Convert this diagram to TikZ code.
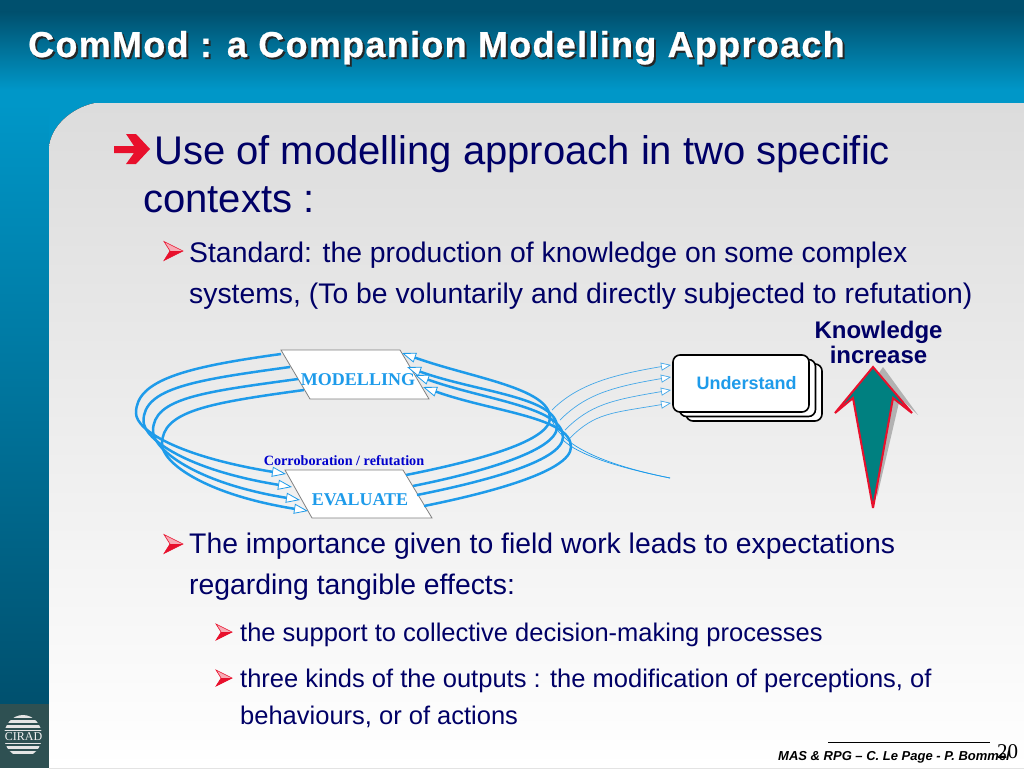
\documentclass[tikz,border=0pt]{standalone}
\usepackage{fontspec}
\setmainfont{Liberation Sans}
\newfontfamily\serifface{Liberation Serif}
\newfontfamily\titleface[LetterSpace=3.6,BoldFeatures={FakeBold=0.6}]{Liberation Sans}
\usetikzlibrary{arrows.meta}
\definecolor{navyText}{HTML}{000066}
\definecolor{loopBlue}{HTML}{1E9BEA}
\definecolor{thinBlue}{HTML}{9CC4E4}
\definecolor{barRed}{HTML}{E8102C}
\definecolor{deepSea}{HTML}{00506E}
\definecolor{midSea}{HTML}{0097C8}
\definecolor{panelTop}{HTML}{DCDCDC}
\definecolor{logoGreen}{HTML}{2E5052}
\tikzset{
  line/.style={anchor=base west, inner sep=0pt, text=navyText},
  mainLine/.style={line, font=\fontsize{40}{40}\selectfont},
  subLine/.style={line, font=\fontsize{28.35}{28.35}\selectfont},
  subsubLine/.style={line, font=\fontsize{25.5}{25.5}\selectfont},
  arrowMark/.pic={
    \fill[barRed!35!white] (0,0) -- (19,9.5) -- (6,9.5) -- cycle;
    \fill[barRed] (0,19) -- (19,9.5) -- (6,9.5) -- cycle;
    \draw[barRed, line width=0.6pt] (0,0) -- (19,9.5) -- (0,19) -- (6,9.5) -- cycle;
  },
  paraBox/.style={draw=gray, fill=white, line width=0.8pt},
  paraLabel/.style={inner sep=0pt, text=loopBlue, font=\serifface\bfseries\fontsize{18}{18}\selectfont},
  loopLine/.style={draw=loopBlue, line width=2.5pt},
  openTip/.style={-{Triangle[length=14pt,width=10pt,line width=0.8pt,fill=white]}},
  thinTip/.style={draw=loopBlue!70!thinBlue, line width=0.7pt, -{Triangle[length=10pt,width=8pt,line width=0.7pt,fill=white]}},
  card/.style={draw=black, fill=white, line width=1.6pt, rounded corners=7pt, minimum width=136pt, minimum height=57pt, inner sep=0pt}
}
\begin{document}
\begin{tikzpicture}[x=1pt,y=-1pt]
  \useasboundingbox (0,0) rectangle (1024,768);

  % background
  \fill[deepSea] (0,0) rectangle (1024,12);
  \fill[top color=deepSea, bottom color=midSea] (0,12) rectangle (1024,90);
  \fill[midSea] (0,90) rectangle (1024,104);
  \fill[midSea] (49,103) rectangle (96,150);
  \fill[top color=midSea, bottom color=deepSea] (0,103) rectangle (49,704);
  \fill[top color=panelTop, bottom color=white]
    (49,768) -- (49,148) .. controls (50,128) and (70,108) .. (95,103) -- (1024,103) -- (1024,768) -- cycle;

  % logo
  \fill[logoGreen] (0,704) rectangle (49,768);
  \begin{scope}
    \clip (23,736) ellipse (19 and 21);
    \foreach \y in {715,720,725,746,751}
      \fill[white!80!gray] (0,\y) rectangle (49,\y+3);
    \draw[white!80!gray, line width=1pt] (0,730) -- (49,730) (0,743) -- (49,743);
  \end{scope}
  \node[inner sep=0pt, text=white!90!gray, font=\serifface\fontsize{12}{12}\selectfont] (cirad) at (23.5,737) {CIRAD};

  % title
  \node[anchor=base west, inner sep=0pt, text=black!85, font=\titleface\bfseries\fontsize{36}{36}\selectfont] (titleShadow) at (30,59) {ComMod : a Companion Modelling Approach};
  \node[anchor=base west, inner sep=0pt, text=white, font=\titleface\bfseries\fontsize{36}{36}\selectfont] (title) at (28,57) {ComMod : a Companion Modelling Approach};

  % text lines
  \fill[barRed] (114,146) -- (134,146) -- (126,134) -- (136,134) -- (150,149) -- (136,164) -- (126,164) -- (134,153) -- (114,153) -- cycle;
  \node[mainLine] (useLine) at (154,164) {Use of modelling approach in two specific};
  \node[mainLine] (contextLine) at (143,212) {contexts :};

  \pic at (164,241.5) {arrowMark};
  \node[subLine] (standardLine) at (189,262) {Standard: the production of knowledge on some complex};
  \node[subLine] (systemsLine) at (189,303) {systems, (To be voluntarily and directly subjected to refutation)};
  \pic at (164,534.5) {arrowMark};
  \node[subLine] (fieldLine) at (189,553) {The importance given to field work leads to expectations};
  \node[subLine] (tangibleLine) at (189,594) {regarding tangible effects:};
  \pic[scale=0.85] at (216,624) {arrowMark};
  \node[subsubLine] (supportLine) at (240,641) {the support to collective decision-making processes};
  \pic[scale=0.85] at (216,670) {arrowMark};
  \node[subsubLine] (kindsLine) at (240,687) {three kinds of the outputs : the modification of perceptions, of};
  \node[subsubLine] (actionsLine) at (240,724) {behaviours, or of actions};

  % boxes of the cycle
  \draw[paraBox] (281,350) -- (400,350) -- (429,399) -- (310,399) -- cycle;
  \draw[paraBox] (285,470) -- (403,470) -- (432,518) -- (312,518) -- cycle;
  \node[paraLabel] (modelling) at (358,380) {MODELLING};
  \node[paraLabel] (evaluate) at (360,500) {EVALUATE};
  \node[inner sep=0pt, text=blue!80!black, font=\serifface\bfseries\fontsize{14.2}{14.2}\selectfont] (corroboration) at (344,461) {Corroboration / refutation};

  % ends of the loops
  \foreach \n/\x/\y in {ma/281/354,mb/290/367,mc/298/379,md/304/390,
                        wa/136/413,wb/143.5/421,wc/153/431,wd/162/444,
                        la/286/474,lb/292/487,lc/300/500,ld/308/511,
                        ra/406/475,rb/413/486,rc/417/495,rd/424/506,
                        sa/550/418,sb/557/427,sc/563/437,sd/571/447,
                        ta/402/353,tb/407/367,tc/415/375,td/423/387}
    \coordinate (\n) at (\x,\y);

  \foreach \k in {a,b,c,d} {
    \draw[loopLine, openTip] (m\k) .. controls +(-95,13) and +(0,-33) .. (w\k) .. controls +(0,18) and +(-105,-17) .. (l\k);
    \draw[loopLine, openTip] (r\k) .. controls +(60,-12) and +(0,25) .. (s\k) .. controls +(0,-30) and +(70,25) .. (t\k);
  }

  % understand stack
  \node[card] (cardC) at (754,392.5) {};
  \node[card] (cardB) at (747.5,388) {};
  \node[card] (understand) at (741,383.5) {};
  \node[inner sep=0pt, text=loopBlue, font=\bfseries\fontsize{18}{18}\selectfont] (understandText) at (746.5,383) {Understand};

  \foreach \n/\x/\y in {ia/671/365,ib/671/377,ic/671/390,id/671/403,
                        ua/552/410,ub/560/420,uc/565/430,ud/570/438,
                        va/552/420,vb/563/440,vc/670/478}
    \coordinate (\n) at (\x,\y);
  \draw[thinTip] (ua) .. controls +(25,-25) and +(-60,10) .. (ia);
  \draw[thinTip] (ub) .. controls +(25,-25) and +(-60,10) .. (ib);
  \draw[thinTip] (uc) .. controls +(25,-25) and +(-60,10) .. (ic);
  \draw[thinTip] (ud) .. controls +(25,-25) and +(-60,10) .. (id);
  \draw[draw=loopBlue, line width=0.7pt] (va) .. controls +(10,30) and +(-50,-10) .. (vc);
  \draw[draw=loopBlue, line width=0.7pt] (vb) .. controls +(15,15) and +(-50,-10) .. (vc);

  % knowledge arrow
  \node[inner sep=0pt, text=navyText, font=\bfseries\fontsize{24}{24}\selectfont] (knowledge) at (878.5,332) {Knowledge};
  \node[inner sep=0pt, text=navyText, font=\bfseries\fontsize{24}{24}\selectfont] (increase) at (878.5,355) {increase};
  \fill[black!30] (883,367) -- (918,415) -- (900,398) -- (877,497) -- (860,400) -- cycle;
  \draw[draw=barRed, fill=teal, line width=2pt, miter limit=4] (873,367) -- (835,413) -- (853,398) -- (873,508) -- (893,398) -- (912,413) -- cycle;

  % footer
  \draw[black, line width=1pt] (828,742) -- (990,742);
  \node[anchor=base west, inner sep=0pt, font=\serifface\fontsize{21}{21}\selectfont] (pageNo) at (997,758) {20};
  \node[anchor=base west, inner sep=0pt, font=\bfseries\itshape\fontsize{13}{13}\selectfont] (footer) at (778,760) {MAS \& RPG – C. Le Page - P. Bommel};
\end{tikzpicture}
\end{document}
